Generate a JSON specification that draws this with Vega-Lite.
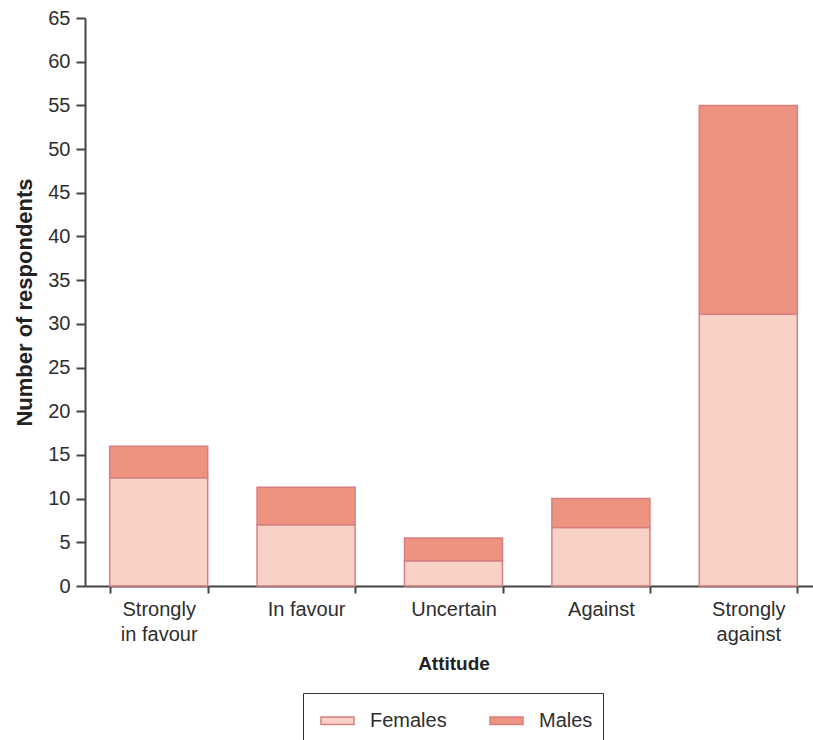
{
  "$schema": "https://vega.github.io/schema/vega-lite/v6.json",
  "width": 728,
  "height": 568,
  "autosize": {"type": "none"},
  "padding": {"left": 85, "top": 18, "right": 0, "bottom": 154},
  "background": "white",
  "config": {
    "font": "Liberation Sans",
    "view": {"stroke": null},
    "axis": {
      "labelFont": "Liberation Sans",
      "titleFont": "Liberation Sans",
      "labelColor": "#2e2e2e",
      "titleColor": "#222222",
      "domainColor": "#444444",
      "tickColor": "#444444",
      "domainWidth": 2,
      "tickWidth": 2,
      "grid": false
    }
  },
  "data": {
    "values": [
      {"attitude": "Strongly in favour", "sex": "Females", "count": 12.4},
      {"attitude": "Strongly in favour", "sex": "Males", "count": 3.6},
      {"attitude": "In favour", "sex": "Females", "count": 7.0},
      {"attitude": "In favour", "sex": "Males", "count": 4.3},
      {"attitude": "Uncertain", "sex": "Females", "count": 2.9},
      {"attitude": "Uncertain", "sex": "Males", "count": 2.6},
      {"attitude": "Against", "sex": "Females", "count": 6.7},
      {"attitude": "Against", "sex": "Males", "count": 3.3},
      {"attitude": "Strongly against", "sex": "Females", "count": 31.1},
      {"attitude": "Strongly against", "sex": "Males", "count": 23.9}
    ]
  },
  "mark": {"type": "bar", "stroke": "#d67f80", "strokeWidth": 1.5},
  "encoding": {
    "x": {
      "field": "attitude",
      "type": "nominal",
      "sort": ["Strongly in favour", "In favour", "Uncertain", "Against", "Strongly against"],
      "scale": {"range": [0, 737], "paddingInner": 0.335, "paddingOuter": 0.1675},
      "axis": {
        "title": "Attitude",
        "titleFontSize": 19,
        "titleFontWeight": "bold",
        "titlePadding": 10,
        "labelFontSize": 20,
        "labelAngle": 0,
        "labelPadding": 6,
        "labelLineHeight": 25,
        "labelBaseline": "top",
        "tickSize": 7,
        "tickBand": "extent",
        "labelExpr": "datum.value == 'Strongly in favour' ? ['Strongly', 'in favour'] : datum.value == 'Strongly against' ? ['Strongly', 'against'] : datum.value"
      }
    },
    "y": {
      "field": "count",
      "type": "quantitative",
      "stack": "zero",
      "scale": {"domain": [0, 65], "nice": false},
      "axis": {
        "title": "Number of respondents",
        "titleFontSize": 22,
        "titleFontWeight": "bold",
        "titlePadding": 11,
        "values": [0, 5, 10, 15, 20, 25, 30, 35, 40, 45, 50, 55, 60, 65],
        "labelFontSize": 20,
        "labelPadding": 6,
        "tickSize": 9
      }
    },
    "color": {
      "field": "sex",
      "type": "nominal",
      "scale": {"domain": ["Females", "Males"], "range": ["#f9d1c6", "#ef9381"]},
      "legend": {
        "title": null,
        "orient": "none",
        "legendX": 218,
        "legendY": 675,
        "direction": "horizontal",
        "columns": 2,
        "columnPadding": 35,
        "strokeColor": "#333333",
        "padding": 10,
        "symbolOffset": 7,
        "symbolType": "M-1,-0.23H1V0.23H-1Z",
        "symbolSize": 1089,
        "symbolStrokeColor": "#d67f80",
        "symbolStrokeWidth": 1.5,
        "symbolOpacity": 1,
        "labelFont": "Liberation Sans",
        "labelFontSize": 20,
        "labelColor": "#2e2e2e",
        "labelOffset": 15
      }
    },
    "order": {"field": "sex", "sort": "ascending"}
  }
}
